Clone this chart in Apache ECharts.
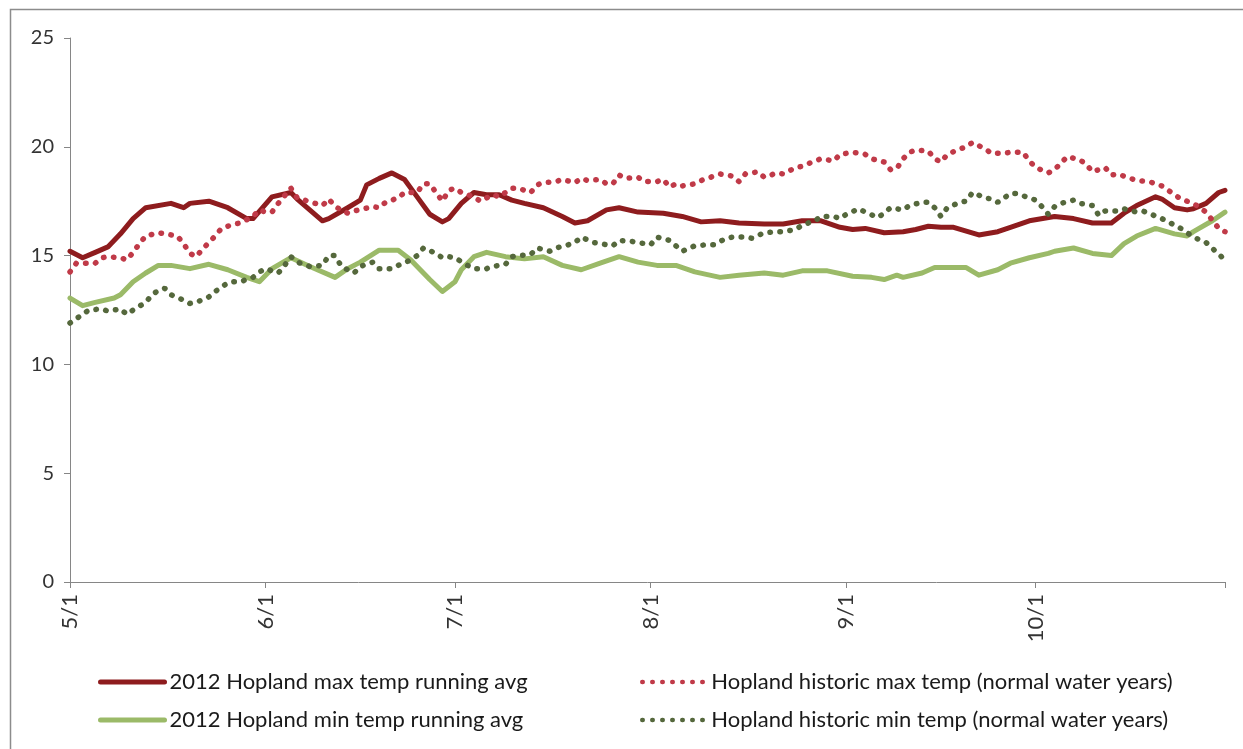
<!DOCTYPE html>
<html>
<head>
<meta charset="utf-8">
<script src="https://cdn.jsdelivr.net/npm/echarts@6/dist/echarts.min.js"></script>
<style>
  html, body { margin: 0; padding: 0; background: #fff; }
  #chart { width: 1243px; height: 749px; }
</style>
</head>
<body>
<div id="chart"></div>
<script>
// daily categories 5/1 .. 10/31
const months = [5, 6, 7, 8, 9, 10];
const monthLengths = [31, 30, 31, 31, 30, 31];
const days = [];
months.forEach((m, i) => {
  for (let d = 1; d <= monthLengths[i]; d++) days.push(m + "/" + d);
});

const yTicks = [0, 5, 10, 15, 20, 25];

// [day offset from 5/1, value]
const max2012 = [
  [0, 15.2], [2, 14.9], [4, 15.15], [6, 15.4], [8, 16.0], [10, 16.7], [12, 17.2],
  [16, 17.4], [18, 17.2], [19, 17.4], [22, 17.5], [25, 17.2], [28, 16.7], [29, 16.7],
  [32, 17.7], [35, 17.9], [36, 17.6], [40, 16.6], [41, 16.7], [44, 17.2], [46, 17.55],
  [47, 18.25], [49, 18.55], [51, 18.8], [53, 18.5], [55, 17.7], [57, 16.9], [59, 16.55],
  [60, 16.7], [62, 17.4], [64, 17.9], [66, 17.8], [68, 17.8], [70, 17.55], [72, 17.4],
  [75, 17.2], [78, 16.8], [80, 16.5], [82, 16.6], [85, 17.1], [87, 17.2], [90, 17.0],
  [94, 16.95], [97, 16.8], [100, 16.55], [103, 16.6], [106, 16.5], [110, 16.45],
  [113, 16.45], [116, 16.6], [119, 16.6], [122, 16.3], [124, 16.2], [126, 16.25],
  [129, 16.05], [132, 16.1], [134, 16.2], [136, 16.35], [138, 16.3], [140, 16.3],
  [144, 15.95], [147, 16.1], [149, 16.3], [152, 16.6], [156, 16.8], [159, 16.7],
  [162, 16.5], [165, 16.5], [167, 16.95], [169, 17.3], [172, 17.7], [173, 17.6],
  [175, 17.2], [177, 17.1], [178, 17.15], [180, 17.4], [182, 17.9], [183, 18.0]
];

const min2012 = [
  [0, 13.05], [2, 12.7], [4, 12.85], [7, 13.05], [8, 13.2], [10, 13.8], [12, 14.2],
  [14, 14.55], [16, 14.55], [19, 14.4], [22, 14.6], [25, 14.35], [28, 14.0], [30, 13.8],
  [32, 14.4], [35, 14.9], [38, 14.5], [42, 14.0], [44, 14.4], [46, 14.7], [49, 15.25],
  [52, 15.25], [54, 14.8], [57, 13.9], [59, 13.35], [61, 13.8], [62, 14.35], [64, 14.95],
  [66, 15.15], [69, 14.95], [72, 14.85], [75, 14.95], [78, 14.55], [81, 14.35],
  [84, 14.65], [87, 14.95], [90, 14.7], [93, 14.55], [96, 14.55], [99, 14.25],
  [103, 14.0], [106, 14.1], [110, 14.2], [113, 14.1], [116, 14.3], [120, 14.3],
  [124, 14.05], [127, 14.0], [129, 13.9], [131, 14.1], [132, 14.0], [135, 14.2],
  [137, 14.45], [142, 14.45], [144, 14.1], [147, 14.35], [149, 14.65], [152, 14.9],
  [155, 15.1], [156, 15.2], [159, 15.35], [162, 15.1], [165, 15.0], [167, 15.55],
  [169, 15.9], [172, 16.25], [175, 16.0], [177, 15.9], [178, 16.1], [181, 16.6], [183, 17.0]
];

const histMax = [
  [0, 14.25], [1, 14.65], [4, 14.65], [5, 14.9], [6, 14.95], [8, 14.9], [9, 14.8],
  [10, 15.15], [11, 15.55], [12, 15.9], [14, 16.05], [15, 16.0], [17, 15.9], [18, 15.55],
  [19, 15.1], [20, 14.95], [21, 15.3], [22, 15.6], [23, 15.9], [24, 16.25], [26, 16.45],
  [27, 16.5], [29, 16.8], [30, 17.1], [31, 17.0], [32, 17.0], [33, 17.4], [35, 18.1],
  [36, 17.65], [40, 17.3], [41, 17.6], [42, 17.25], [44, 16.95], [45, 17.05], [48, 17.25],
  [49, 17.2], [50, 17.45], [52, 17.65], [53, 17.9], [55, 17.9], [56, 18.3], [57, 18.3],
  [58, 17.9], [59, 17.5], [60, 18.0], [61, 18.1], [62, 17.9], [64, 17.7], [65, 17.5],
  [67, 17.8], [68, 17.7], [70, 18.1], [71, 18.1], [73, 17.9], [74, 18.25], [75, 18.35],
  [77, 18.4], [78, 18.5], [80, 18.35], [81, 18.55], [82, 18.45], [84, 18.5], [85, 18.3],
  [86, 18.3], [87, 18.7], [88, 18.55], [90, 18.6], [91, 18.4], [93, 18.4], [94, 18.5],
  [95, 18.15], [96, 18.3], [97, 18.2], [99, 18.3], [100, 18.45], [102, 18.65],
  [103, 18.75], [105, 18.65], [106, 18.4], [107, 18.75], [109, 18.85], [110, 18.6],
  [112, 18.8], [113, 18.75], [115, 19.05], [116, 19.1], [118, 19.35], [119, 19.45],
  [121, 19.35], [122, 19.65], [124, 19.75], [126, 19.65], [127, 19.45], [129, 19.3],
  [130, 18.95], [131, 19.0], [132, 19.45], [133, 19.75], [134, 19.85], [136, 19.8],
  [137, 19.45], [138, 19.3], [139, 19.65], [141, 19.9], [142, 20.0], [143, 20.2],
  [145, 19.9], [146, 19.7], [148, 19.7], [149, 19.75], [151, 19.75], [152, 19.35],
  [153, 19.05], [155, 18.8], [156, 18.95], [157, 19.25], [158, 19.55], [160, 19.4],
  [161, 19.2], [162, 18.85], [164, 19.05], [165, 18.7], [166, 18.75], [168, 18.55],
  [169, 18.45], [171, 18.4], [173, 18.2], [176, 17.6], [178, 17.4], [180, 17.0],
  [182, 16.25], [183, 16.1]
];

const histMin = [
  [0, 11.9], [2, 12.3], [3, 12.5], [5, 12.55], [6, 12.45], [8, 12.55], [9, 12.3],
  [10, 12.5], [12, 12.85], [13, 13.2], [14, 13.4], [15, 13.5], [16, 13.2], [18, 12.95],
  [19, 12.8], [20, 12.85], [22, 13.1], [23, 13.35], [25, 13.75], [26, 13.8], [27, 13.8],
  [29, 14.0], [30, 14.25], [31, 14.4], [32, 14.3], [33, 14.2], [34, 14.55], [35, 14.95],
  [36, 14.7], [38, 14.5], [40, 14.55], [41, 15.0], [42, 15.0], [43, 14.5], [44, 14.35],
  [45, 14.2], [46, 14.5], [48, 14.7], [49, 14.4], [51, 14.4], [52, 14.55], [54, 14.8],
  [55, 15.0], [56, 15.35], [58, 15.1], [59, 14.9], [60, 14.95], [61, 14.9], [63, 14.55],
  [64, 14.4], [66, 14.4], [67, 14.5], [69, 14.6], [70, 14.95], [71, 15.0], [73, 15.05],
  [74, 15.35], [76, 15.2], [77, 15.35], [79, 15.5], [80, 15.6], [81, 15.85], [83, 15.6],
  [84, 15.55], [86, 15.45], [87, 15.7], [89, 15.65], [91, 15.55], [92, 15.5], [93, 15.85],
  [95, 15.7], [96, 15.45], [97, 15.2], [99, 15.45], [101, 15.5], [102, 15.5], [104, 15.8],
  [105, 15.85], [107, 15.85], [108, 15.8], [110, 16.05], [112, 16.1], [113, 16.1],
  [115, 16.2], [116, 16.4], [118, 16.6], [119, 16.8], [121, 16.8], [122, 16.7],
  [123, 16.9], [125, 17.15], [126, 17.0], [128, 16.75], [129, 16.95], [130, 17.2],
  [132, 17.1], [133, 17.3], [135, 17.45], [136, 17.45], [137, 17.2], [138, 16.8],
  [139, 17.2], [141, 17.45], [142, 17.5], [143, 17.9], [145, 17.65], [146, 17.6],
  [147, 17.45], [149, 17.85], [150, 17.85], [151, 17.75], [153, 17.55], [154, 17.25],
  [155, 16.9], [156, 17.25], [157, 17.4], [159, 17.55], [160, 17.4], [162, 17.3],
  [163, 16.85], [164, 17.05], [166, 17.05], [167, 17.15], [169, 17.0], [170, 17.05],
  [173, 16.7], [176, 16.25], [178, 15.85], [180, 15.6], [183, 14.8]
];

const names = [
  "2012 Hopland max temp running avg",
  "2012 Hopland min temp running avg",
  "Hopland historic max temp (normal water years)",
  "Hopland historic min temp (normal water years)"
];

const toPoints = (arr) => arr.map((p) => [days[p[0]], p[1]]);
const isMonthStart = (i, v) => /^\d+\/1$/.test(v);

const chart = echarts.init(document.getElementById("chart"));
const font = "Lato";
const textColor = "#333";
const axisColor = "#868686";

const option = {
  animation: false,
  backgroundColor: "#fff",
  textStyle: { fontFamily: font },
  graphic: [
    {
      type: "rect",
      shape: { x: 10.5, y: 9.5, width: 1300, height: 800 },
      style: { fill: "none", stroke: "#8c8c8c", lineWidth: 1.5 },
      silent: true
    }
  ],
  grid: { left: 70, right: 18, top: 38, bottom: 167 },
  legend: [
    { data: [names[0]], left: 93, top: 666, lineStyle: { width: 5 } },
    { data: [names[1]], left: 93, top: 704, lineStyle: { width: 5 } },
    { data: [names[2]], left: 635, top: 666, lineStyle: { width: 4.5 } },
    { data: [names[3]], left: 635, top: 704, lineStyle: { width: 4.5 } }
  ].map((l) => Object.assign(l, {
    itemWidth: 64,
    itemHeight: 14,
    itemStyle: { opacity: 0 },
    textStyle: { fontFamily: font, fontSize: 22, color: "#1a1a1a" }
  })),
  xAxis: {
    type: "category",
    data: days,
    boundaryGap: false,
    axisLine: { lineStyle: { color: axisColor, width: 1 } },
    axisTick: {
      interval: (i, v) => isMonthStart(i, v) || i === days.length - 1,
      length: 6,
      lineStyle: { color: axisColor }
    },
    axisLabel: {
      interval: isMonthStart,
      rotate: 90,
      margin: 12,
      fontSize: 22,
      color: textColor,
      fontFamily: font
    },
    splitLine: { show: false }
  },
  yAxis: {
    type: "value",
    min: yTicks[0],
    max: yTicks[yTicks.length - 1],
    interval: 5,
    axisLine: { show: true, lineStyle: { color: axisColor, width: 1 } },
    axisTick: { show: true, length: 6, lineStyle: { color: axisColor } },
    axisLabel: { fontSize: 20, color: textColor, margin: 16, fontFamily: font },
    splitLine: { show: false }
  },
  series: [
    {
      name: names[0],
      type: "line",
      data: toPoints(max2012),
      symbol: "none",
      lineStyle: { color: "#8e1c1e", width: 5, cap: "round", join: "round" },
      itemStyle: { color: "#8e1c1e" }
    },
    {
      name: names[1],
      type: "line",
      data: toPoints(min2012),
      symbol: "none",
      lineStyle: { color: "#9bba68", width: 5, cap: "round", join: "round" },
      itemStyle: { color: "#9bba68" }
    },
    {
      name: names[2],
      type: "line",
      data: toPoints(histMax),
      symbol: "none",
      lineStyle: { color: "#c03a48", width: 5.5, type: [0.5, 9.5], cap: "round" },
      itemStyle: { color: "#c03a48" }
    },
    {
      name: names[3],
      type: "line",
      data: toPoints(histMin),
      symbol: "none",
      lineStyle: { color: "#55683c", width: 5.5, type: [0.5, 9.5], cap: "round" },
      itemStyle: { color: "#55683c" }
    }
  ]
};

chart.setOption(option);
window.onresize = function () {
  chart.resize();
};
</script>
</body>
</html>
